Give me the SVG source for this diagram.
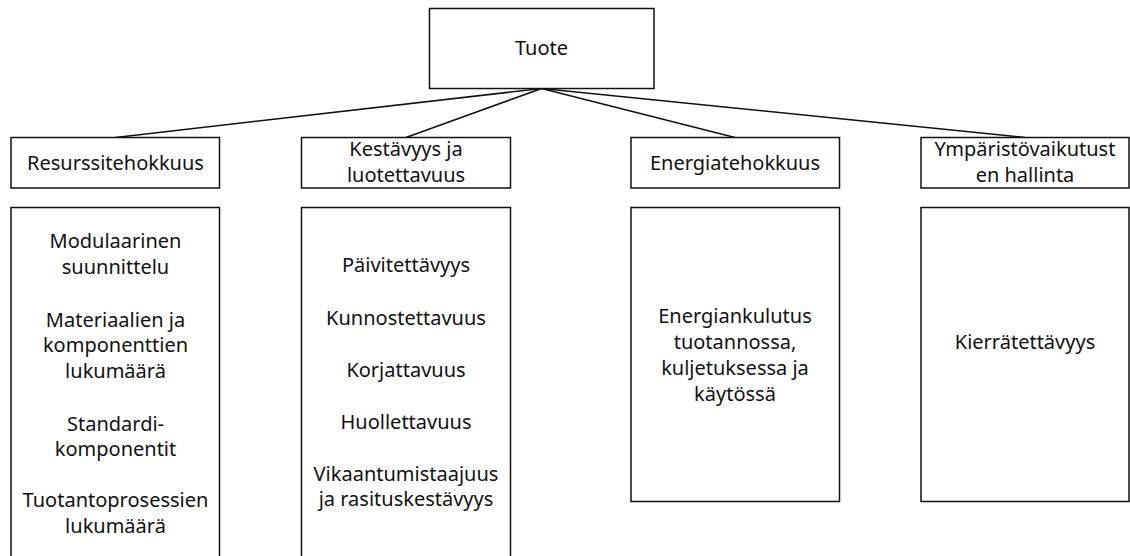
<svg xmlns="http://www.w3.org/2000/svg" width="1130" height="556" viewBox="0 0 1130 556">
  <style>
    .box { fill: #ffffff; stroke: #111111; stroke-width: 1.5; }
    .link { stroke: #111111; stroke-width: 1.5; fill: none; }
    .label { font-family: "Noto Sans", "Open Sans", sans-serif; font-size: 20px; fill: #111111; text-anchor: middle; }
  </style>
  <rect width="1130" height="556" fill="#ffffff"/>

  <!-- connectors from the root to the category headers -->
  <g id="connectors">
    <line class="link" x1="541.5" y1="88.5" x2="115.5" y2="137.5"/>
    <line class="link" x1="541.5" y1="88.5" x2="406" y2="137.5"/>
    <line class="link" x1="541.5" y1="88.5" x2="735" y2="137.5"/>
    <line class="link" x1="541.5" y1="88.5" x2="1025" y2="137.5"/>
  </g>

  <!-- root -->
  <g id="tuote">
    <rect class="box" x="429.5" y="8.5" width="224.5" height="80"/>
    <text class="label" x="541.5" y="55">Tuote</text>
  </g>

  <!-- category headers -->
  <g id="resurssitehokkuus">
    <rect class="box" x="11" y="137.5" width="208.5" height="50.5"/>
    <text class="label" x="115.5" y="170">Resurssitehokkuus</text>
  </g>
  <g id="kestavyys">
    <rect class="box" x="301.5" y="137.5" width="209" height="50.5"/>
    <text class="label" x="406" y="156">Kestävyys ja</text>
    <text class="label" x="406" y="181.5">luotettavuus</text>
  </g>
  <g id="energiatehokkuus">
    <rect class="box" x="631" y="137.5" width="208.5" height="50.5"/>
    <text class="label" x="735" y="170">Energiatehokkuus</text>
  </g>
  <g id="ymparistovaikutus">
    <rect class="box" x="921" y="137.5" width="208" height="50.5"/>
    <text class="label" x="1025" y="156">Ympäristövaikutust</text>
    <text class="label" x="1025" y="181.5">en hallinta</text>
  </g>

  <!-- detail lists -->
  <g id="resurssi-tekijat">
    <rect class="box" x="11" y="207.5" width="208.5" height="360"/>
    <text class="label" x="115.5" y="248">Modulaarinen</text>
    <text class="label" x="115.5" y="273.5">suunnittelu</text>
    <text class="label" x="115.5" y="326.5">Materiaalien ja</text>
    <text class="label" x="115.5" y="352">komponenttien</text>
    <text class="label" x="115.5" y="377.5">lukumäärä</text>
    <text class="label" x="115.5" y="430.5">Standardi-</text>
    <text class="label" x="115.5" y="456">komponentit</text>
    <text class="label" x="115.5" y="507">Tuotantoprosessien</text>
    <text class="label" x="115.5" y="532.5">lukumäärä</text>
  </g>
  <g id="kestavyys-tekijat">
    <rect class="box" x="301.5" y="207.5" width="209" height="360"/>
    <text class="label" x="406" y="271.5">Päivitettävyys</text>
    <text class="label" x="406" y="324.5">Kunnostettavuus</text>
    <text class="label" x="406" y="376.5">Korjattavuus</text>
    <text class="label" x="406" y="429">Huollettavuus</text>
    <text class="label" x="406" y="480.5">Vikaantumistaajuus</text>
    <text class="label" x="406" y="506">ja rasituskestävyys</text>
  </g>
  <g id="energia-tekijat">
    <rect class="box" x="631" y="207.5" width="208.5" height="294"/>
    <text class="label" x="735" y="323">Energiankulutus</text>
    <text class="label" x="735" y="349">tuotannossa,</text>
    <text class="label" x="735" y="375">kuljetuksessa ja</text>
    <text class="label" x="735" y="400.5">käytössä</text>
  </g>
  <g id="ymparisto-tekijat">
    <rect class="box" x="921" y="207.5" width="208" height="294"/>
    <text class="label" x="1025" y="349">Kierrätettävyys</text>
  </g>
</svg>
